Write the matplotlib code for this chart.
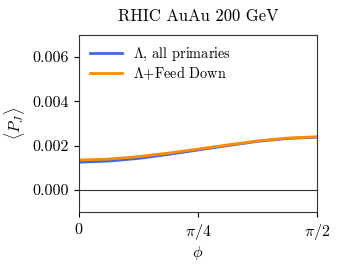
import numpy as np
import matplotlib
matplotlib.use("Agg")
import matplotlib.pyplot as plt

plt.rcParams['font.family'] = 'serif'
plt.rcParams['font.serif'] = ['cmr10', 'DejaVu Serif']
plt.rcParams['mathtext.fontset'] = 'cm'
plt.rcParams['axes.formatter.use_mathtext'] = True
plt.rcParams['font.size'] = 11.5

# data
phi = np.pi / 2 * np.array([0, 1, 2, 3, 4, 5, 6, 7, 8]) / 8
pj_primaries = [0.00125, 0.00130, 0.00142, 0.00160, 0.00180, 0.00200, 0.00219, 0.00232, 0.00238]
pj_feeddown = [0.00135, 0.00139, 0.00150, 0.00166, 0.00184, 0.00203, 0.00221, 0.00234, 0.00240]
xticks = [0, np.pi / 4, np.pi / 2]
xticklabels = [r'$0$', r'$\pi/4$', r'$\pi/2$']
yticks = [0.0, 0.002, 0.004, 0.006]

fig = plt.figure(figsize=(3.4, 2.69), dpi=100)
ax = fig.add_axes([0.232, 0.212, 0.700, 0.658])

ax.axhline(0, color='#333333', lw=0.8)
ax.plot(phi, pj_primaries, color='#4169e1', lw=2, label=r'$\Lambda$, all primaries')
ax.plot(phi, pj_feeddown, color='#ff8c00', lw=2, label=r'$\Lambda$+Feed Down')

ax.set_xlim(0, np.pi / 2)
ax.set_ylim(-0.001, 0.007)
ax.set_xticks(xticks)
ax.set_xticklabels(xticklabels)
ax.set_yticks(yticks)
ax.set_yticklabels(['0.000', '0.002', '0.004', '0.006'])
ax.set_xlabel(r'$\phi$', labelpad=2)
ax.set_ylabel(r'$\langle P_J \rangle$')
ax.set_title('RHIC AuAu 200 GeV', fontsize=12, pad=10)
ax.legend(loc='upper left', frameon=False, fontsize=10.3, handlelength=2.2,
          labelspacing=0.05, borderaxespad=0.4)
for s in ax.spines.values():
    s.set_color('#333333')

fig.savefig('out.png', dpi=100)
